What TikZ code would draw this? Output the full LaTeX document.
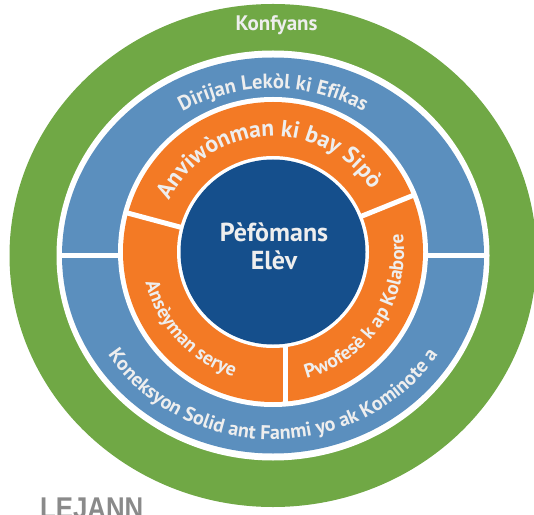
\documentclass[tikz,border=0pt]{standalone}
\usepackage{fontspec}
\setmainfont{PT Sans}
\newfontfamily\lblfont{Liberation Sans}
\usetikzlibrary{decorations.text,calc}
\definecolor{ringgreen}{HTML}{70A845}
\definecolor{ringblue}{HTML}{5B8FBE}
\definecolor{ringorange}{HTML}{F37A25}
\definecolor{coreblue}{HTML}{154F8C}
\definecolor{txt}{HTML}{EEEEEE}
\definecolor{lblgray}{HTML}{8A8A8A}
\tikzset{
  divider/.style={white, line width=5pt},
  ringtext/.style={decorate, decoration={text along path, text align=center, text={#1}}},
}
\newcommand{\fs}[1]{\fontsize{#1}{#1}\selectfont\bfseries\color{txt}}
\begin{document}
\begin{tikzpicture}[x=1pt,y=1pt]
\useasboundingbox (0,0) rectangle (534,514);
\clip (0,0) rectangle (534,514);
\coordinate (O1) at (273,258.5);
\coordinate (O2) at (273,262);
% rings
\fill[ringgreen] (O1) ellipse[x radius=263.5pt, y radius=251.5pt];
\fill[white] (O1) ellipse[x radius=216.5pt, y radius=205pt];
\fill[ringblue] (O1) ellipse[x radius=211pt, y radius=198pt];
\draw[white, line width=4.5pt] (O1) ++(-214pt,0) coordinate (hl) -- ++(428pt,0) coordinate (hr);
\fill[white] (O2) circle[radius=155pt];
\fill[ringorange] (O2) circle[radius=150pt];
\coordinate (d1a) at ($(O2)+(165:90pt)$);
\coordinate (d1b) at ($(O2)+(165:152pt)$);
\coordinate (d2a) at ($(O2)+(22:90pt)$);
\coordinate (d2b) at ($(O2)+(22:152pt)$);
\coordinate (d3a) at (285,170);
\coordinate (d3b) at (285,111);
\draw[divider] (d1a) -- (d1b);
\draw[divider] (d2a) -- (d2b);
\draw[divider] (d3a) -- (d3b);
\fill[white] (O2) circle[radius=96pt];
\fill[coreblue] (O2) circle[radius=92.5pt];
% texts
\node[anchor=base, font=\fs{21}] (konf) at (276.5,483.3) {Konfyans};
\node[anchor=base, font=\fs{26}] (core1) at (274,272) {Pèfòmans};
\node[anchor=base, font=\fs{26}] (core2) at (274,244) {Elèv};
\path[ringtext={|\fs{20.5}|Dirijan Lekòl ki Efikas}] (O1) ++(165:178pt and 167pt) arc[start angle=165, end angle=15, x radius=178pt, y radius=167pt];
\path[ringtext={|\fs{20}|Koneksyon Solid ant Fanmi yo ak Kominote a}] (O1) ++(195:196pt and 184pt) arc[start angle=195, end angle=345, x radius=196pt, y radius=184pt];
\path[ringtext={|\fs{23.5}|Anviwònman ki bay Sipò}] (O2) ++(163:116pt) arc[start angle=163, end angle=23, radius=116pt];
\path[ringtext={|\fs{19.5}|Ansèyman serye}] (O2) ++(172:131pt) arc[start angle=172, end angle=274, radius=131pt];
\path[ringtext={|\fs{19.5}|Pwofesè k ap Kolabore}] (O2) ++(-84:131pt) arc[start angle=-84, end angle=17, radius=131pt];
\node[anchor=base west, inner sep=0pt, text=lblgray, xscale=0.86, font=\lblfont\bfseries\fontsize{30}{30}\selectfont] (lejann) at (40,-4.5) {LEJANN};
\end{tikzpicture}
\end{document}
